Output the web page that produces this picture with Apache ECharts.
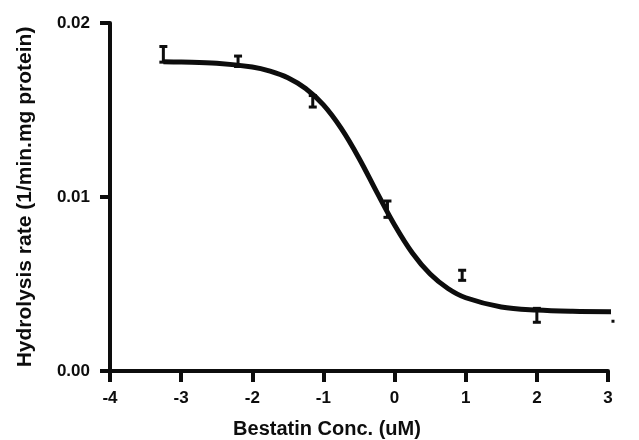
<!DOCTYPE html>
<html>
<head>
<meta charset="utf-8">
<script src="https://cdn.jsdelivr.net/npm/echarts@6/dist/echarts.min.js"></script>
<style>
  html, body { margin: 0; padding: 0; background: #ffffff; }
  #chart { width: 639px; height: 440px; }
</style>
</head>
<body>
<div id="chart"></div>
<script>
// Measured hydrolysis rate vs log Bestatin concentration (mean ± error)
const logConc = [-3.25, -2.2, -1.15, -0.1, 0.95, 2.0, 3.07];
const rateMean = [0.0182, 0.0178, 0.0155, 0.0093, 0.0055, 0.0032, 0.00286];
const rateErr = [0.00045, 0.0003, 0.00033, 0.00047, 0.00029, 0.0004, 0.00002];

// Sigmoidal fit curve, sampled along the concentration axis
const fitX = [-3.25, -3, -2.5, -2, -1.75, -1.5, -1.25, -1, -0.75, -0.5, -0.25, 0, 0.25, 0.5, 0.75, 1, 1.5, 2, 2.5, 3.05];
const fitY = [0.01778, 0.01776, 0.01769, 0.01747, 0.01723, 0.01685, 0.01623, 0.01529, 0.01394, 0.01223, 0.01028, 0.00839, 0.00678, 0.00557, 0.00474, 0.00421, 0.00368, 0.00350, 0.00343, 0.00341];

// Axis ticks
const xTicks = [-4, -3, -2, -1, 0, 1, 2, 3];
const yTickValues = [0, 0.01, 0.02];
const yTickLabels = ['0.00', '0.01', '0.02'];

const ink = '#0d0d0d';
const fontFamily = '"Liberation Sans", Arial, sans-serif';

const errData = logConc.map((x, i) => [x, rateMean[i], rateErr[i]]);
const curveData = fitX.map((x, i) => [x, fitY[i]]);

function renderErrorBar(params, api) {
  const x = api.value(0);
  const m = api.value(1);
  const e = api.value(2);
  const top = api.coord([x, m + e]);
  const bot = api.coord([x, m - e]);
  const cx = top[0];
  const capHalf = 4;
  const style = { stroke: ink, lineWidth: 3, fill: null };
  if (Math.abs(bot[1] - top[1]) < 3) {
    // bar too short to show: draw a small square mark
    const mid = api.coord([x, m]);
    return {
      type: 'rect',
      shape: { x: mid[0] - 1.5, y: mid[1] - 1.5, width: 3, height: 3 },
      style: { fill: ink }
    };
  }
  return {
    type: 'group',
    children: [
      { type: 'line', shape: { x1: cx, y1: top[1], x2: cx, y2: bot[1] }, style },
      { type: 'line', shape: { x1: cx - capHalf, y1: top[1], x2: cx + capHalf, y2: top[1] }, style },
      { type: 'line', shape: { x1: cx - capHalf, y1: bot[1], x2: cx + capHalf, y2: bot[1] }, style }
    ]
  };
}

const chart = echarts.init(document.getElementById('chart'), null, { renderer: 'canvas' });

chart.setOption({
  animation: false,
  backgroundColor: '#ffffff',
  grid: {
    left: 110, right: 31, top: 23, bottom: 69,
    containLabel: false,
    outerBoundsMode: 'none'
  },
  xAxis: {
    type: 'value',
    min: xTicks[0],
    max: xTicks[xTicks.length - 1],
    interval: 1,
    splitLine: { show: false },
    axisLine: { show: true, onZero: false, lineStyle: { color: ink, width: 4 } },
    axisTick: { show: true, length: 11, lineStyle: { color: ink, width: 4 } },
    axisLabel: {
      color: ink, fontSize: 17, fontWeight: 'bold', fontFamily, margin: 19,
      formatter: v => String(v)
    },
    name: 'Bestatin Conc. (uM)',
    nameLocation: 'middle',
    nameGap: 48,
    nameTextStyle: {
      color: ink, fontSize: 20, fontWeight: 'bold', fontFamily,
      padding: [0, 64, 0, 0]
    }
  },
  yAxis: {
    type: 'value',
    min: yTickValues[0],
    max: yTickValues[yTickValues.length - 1],
    interval: 0.01,
    splitLine: { show: false },
    axisLine: { show: true, onZero: false, lineStyle: { color: ink, width: 4 } },
    axisTick: { show: true, length: 10, lineStyle: { color: ink, width: 4 } },
    axisLabel: {
      color: ink, fontSize: 17, fontWeight: 'bold', fontFamily, margin: 20,
      formatter: v => {
        const i = yTickValues.findIndex(t => Math.abs(t - v) < 1e-9);
        return i >= 0 ? yTickLabels[i] : '';
      }
    },
    name: 'Hydrolysis rate (1/min.mg protein)',
    nameLocation: 'middle',
    nameGap: 74,
    nameTextStyle: { color: ink, fontSize: 21, fontWeight: 'bold', fontFamily }
  },
  series: [
    {
      type: 'line',
      data: curveData,
      smooth: 0.35,
      showSymbol: false,
      symbol: 'none',
      clip: false,
      lineStyle: { color: ink, width: 5 },
      z: 2
    },
    {
      type: 'custom',
      data: errData,
      renderItem: renderErrorBar,
      clip: false,
      encode: { x: 0, y: [1, 2] },
      z: 3
    }
  ]
});
</script>
</body>
</html>
